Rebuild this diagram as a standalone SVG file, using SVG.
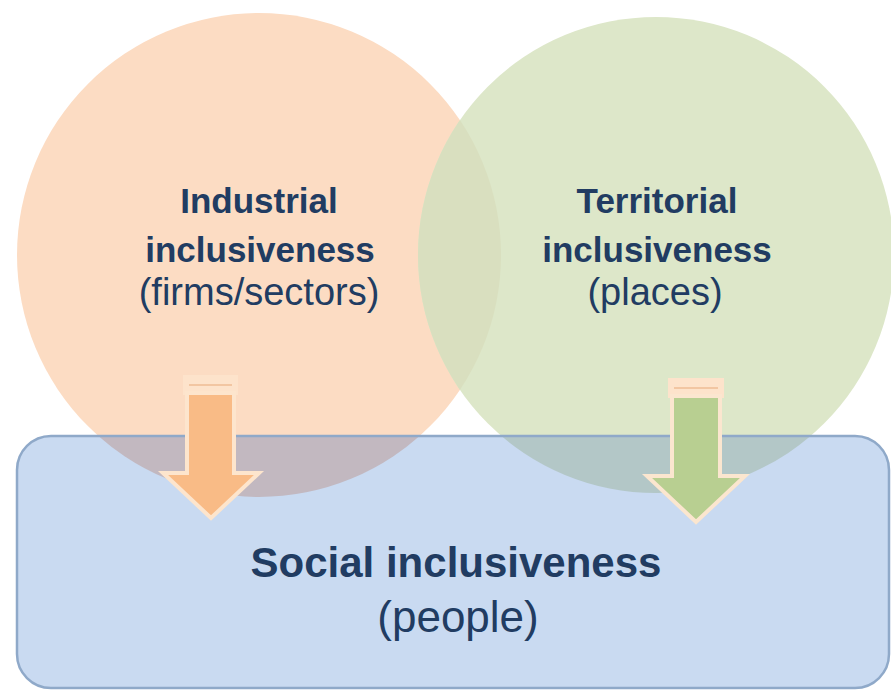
<svg xmlns="http://www.w3.org/2000/svg" width="891" height="691" viewBox="0 0 891 691">
<defs>
<style>
.b{font-family:"Liberation Sans",Arial,sans-serif;font-weight:bold;fill:#213c62;text-anchor:middle}
.r{font-family:"Liberation Sans",Arial,sans-serif;fill:#213c62;text-anchor:middle}
</style>
<clipPath id="cL"><circle cx="259" cy="255" r="242"/></clipPath>
<clipPath id="cR"><circle cx="656" cy="255" r="238"/></clipPath>
<clipPath id="cB"><rect x="17" y="436" width="872" height="252" rx="34"/></clipPath>
</defs>
<rect width="891" height="691" fill="#ffffff"/>
<g id="industrial">
<circle cx="259" cy="255" r="242" fill="#fcdcc3"/>
</g>
<g id="territorial">
<circle cx="656" cy="255" r="238" fill="#dde7c9"/>
<g clip-path="url(#cL)"><circle cx="656" cy="255" r="238" fill="#d9dfbf"/></g>
</g>
<g id="social">
<rect x="17" y="436" width="872" height="252" rx="34" fill="#c9daf1"/>
<g clip-path="url(#cB)">
<circle cx="259" cy="255" r="242" fill="#c2b8c0"/>
<circle cx="656" cy="255" r="238" fill="#b3c7c7"/>
</g>
<rect x="17" y="436" width="872" height="252" rx="34" fill="none" stroke="#8fa9c9" stroke-width="2.5"/>
</g>
<g id="connectors">
<rect x="183" y="375" width="55" height="20" fill="#fde3cb"/>
<line x1="189" y1="385" x2="232" y2="385" stroke="#f2c6a2" stroke-width="2"/>
<polygon points="187,393 234,393 234,473 259,473 211,518 163,473 187,473" fill="#f9bb86" stroke="#fde5cd" stroke-width="4" stroke-linejoin="miter"/>
<rect x="668" y="378" width="56" height="20" fill="#fde3cb"/>
<line x1="674" y1="388" x2="718" y2="388" stroke="#f2c6a2" stroke-width="2"/>
<polygon points="672,396 720,396 720,476 745,476 696,522 647,476 672,476" fill="#b8cf91" stroke="#fbe6cf" stroke-width="4" stroke-linejoin="miter"/>
</g>
<g id="labels">
<text class="b" x="259" y="213" font-size="35">Industrial</text>
<text class="b" x="260" y="262" font-size="35">inclusiveness</text>
<text class="r" x="259" y="305" font-size="38">(firms/sectors)</text>
<text class="b" x="657" y="213" font-size="35">Territorial</text>
<text class="b" x="657" y="262" font-size="35">inclusiveness</text>
<text class="r" x="655" y="305" font-size="38">(places)</text>
<text class="b" x="456" y="577" font-size="42">Social inclusiveness</text>
<text class="r" x="458" y="632" font-size="44">(people)</text>
</g>
</svg>
